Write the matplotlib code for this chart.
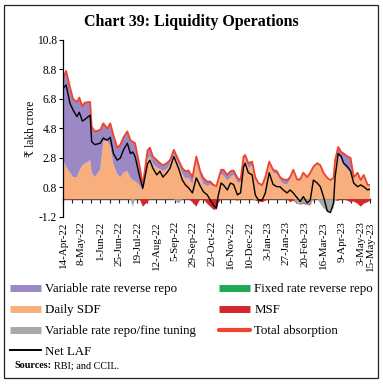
import matplotlib
matplotlib.use("Agg")
import matplotlib.pyplot as plt
import matplotlib.patches as mpatches
from matplotlib.lines import Line2D
import numpy as np
import pandas as pd

# ---- data (₹ lakh crore), sampled dates as day offsets from 14-Apr-2022 ----
day_offset = [0, 4, 9, 13, 18, 21, 25, 28, 35, 37, 41, 48, 52, 57, 61, 65, 70, 74, 78, 83,
              87, 90, 93, 96, 99, 103, 109, 112, 116, 121, 125, 129, 134, 138, 143, 149, 154, 158, 162, 167,
              172, 177, 181, 186, 190, 194, 198, 200, 204, 207, 212, 216, 220, 225, 229, 233, 235, 239, 244, 248,
              252, 257, 261, 266, 271, 276, 280, 284, 289, 293, 297, 302, 306, 310, 315, 319, 323, 328, 332, 336,
              341, 345, 349, 351, 355, 359, 362, 367, 371, 375, 380, 384, 388, 393, 396]

daily_sdf = [2.66, 2.2, 1.8, 1.5, 1.5, 1.9, 2.3, 2.4, 2.65, 1.8, 1.5, 2.0, 3.9, 4.0, 3.55, 2.4, 1.7, 1.5, 1.8, 1.9,
             1.45, 1.3, 1.2, 1.1, 0.9, 0.55, 2.7, 2.9, 2.4, 2.15, 2.05, 1.9, 2.05, 2.35, 3.05, 2.35, 1.7, 1.4, 1.45, 1.0,
             2.6, 1.5, 1.05, 0.9, 1.0, 0.87, 0.9, 1.2, 1.7, 1.6, 1.25, 1.5, 1.65, 1.15, 1.1, 2.7, 2.8, 2.15, 2.25, 1.3,
             1.0, 0.87, 1.4, 2.45, 1.8, 1.7, 1.3, 1.05, 1.0, 1.3, 1.9, 1.25, 1.25, 1.7, 1.5, 1.8, 2.1, 2.35, 2.2, 1.8,
             1.45, 1.3, 1.45, 2.45, 3.05, 2.6, 2.3, 2.0, 2.0, 1.4, 1.7, 1.2, 1.55, 0.97, 0.97]

var_rate_rev_repo = [5.54, 6.5, 5.8, 5.3, 5.1, 5.0, 4.0, 4.15, 3.95, 3.1, 3.1, 2.7, 1.25, 0.8, 1.6, 1.95, 1.8, 2.2, 2.4, 2.7,
                     2.55, 2.6, 2.6, 1.9, 1.3, 0.4, 0.6, 0.6, 0.5, 0.5, 0.4, 0.4, 0.4, 0.3, 0.3, 0.3, 0.4, 0.5, 0.5, 0.5,
                     0.3, 0.4, 0.4, 0.3, 0.2, 0.1, 0.0, 0.1, 0.3, 0.4, 0.4, 0.4, 0.3, 0.3, 0.2, 0.2, 0.2, 0.3, 0.3, 0.2,
                     0.1, 0.1, 0.1, 0.1, 0.2, 0.2, 0.2, 0.3, 0.3, 0.2, 0.1, 0.1, 0.1, 0.1, 0.0, 0.0, 0.1, 0.1, 0.1, 0.0,
                     0.0, 0.0, 0.0, 0.2, 0.5, 0.6, 0.8, 0.9, 0.8, 0.1, 0.1, 0.1, 0.1, 0.0, 0.0]

net_laf = [7.5, 7.75, 6.5, 6.05, 5.6, 5.9, 5.3, 5.4, 5.7, 3.9, 3.7, 3.8, 4.15, 4.0, 4.2, 3.1, 2.65, 2.8, 3.35, 3.8,
           3.1, 3.2, 2.9, 2.2, 1.5, 0.75, 2.4, 2.65, 2.1, 1.65, 1.9, 1.5, 1.8, 2.1, 2.9, 2.1, 1.3, 0.97, 0.77, 0.43,
           1.45, 0.9, 0.52, 0.3, -0.05, -0.4, -0.6, 0.18, 1.1, 0.97, 0.63, 1.1, 1.0, 0.3, 0.43, 2.2, 2.45, 1.8, 1.65, 0.3,
           -0.05, -0.05, 0.43, 1.8, 1.0, 0.85, 0.85, 0.63, 0.43, 0.63, 0.43, 0.1, -0.15, 0.18, -0.25, -0.05, 1.3, 1.1, 0.85, 0.18,
           -0.8, -0.9, -0.25, 1.5, 3.1, 2.9, 2.45, 2.2, 1.9, 1.1, 0.85, 0.97, 0.85, 0.63, 0.7]

msf = [0.05, 0.05, 0, 0, 0, 0, 0, 0, 0, 0, 0, 0, 0, 0, 0, 0, 0, 0, 0, 0,
       0, 0, 0, 0, 0, 0.5, 0.2, 0, 0, 0, 0, 0, 0, 0, 0, 0, 0, 0, 0, 0.2,
       0.5, 0, 0, 0.3, 0.5, 0.7, 0.7, 0.3, 0, 0, 0, 0, 0, 0.1, 0, 0, 0, 0, 0, 0,
       0.15, 0.2, 0.1, 0, 0, 0, 0, 0, 0, 0.2, 0.1, 0, 0, 0.1, 0, 0.1, 0, 0, 0, 0,
       0, 0, 0, 0, 0.1, 0, 0, 0.1, 0.2, 0.15, 0.3, 0.5, 0.3, 0.2, 0.1]

var_rate_repo = [0, 0, 0, 0, 0, 0, 0, 0, 0, 0, 0, 0, 0, 0, 0, 0, 0, 0, 0, 0,
                 0, 0.5, 0, 0, 0, 0, 0, 0, 0, 0, 0, 0, 0, 0, 0, 0.3, 0, 0, 0, 0,
                 0, 0, 0, 0, 0, 0, 0, 0, 0, 0, 0, 0, 0, 0, 0, 0, 0, 0, 0, 0.1,
                 0, 0, 0, 0, 0, 0, 0, 0, 0, 0, 0, 0.3, 0.4, 0.2, 0.4, 0.3, 0, 0, 0.3, 0.6,
                 0.85, 0.85, 0.6, 0.1, 0, 0, 0, 0, 0, 0, 0, 0, 0, 0, 0]

tick_labels = ["14-Apr-22", "8-May-22", "1-Jun-22", "25-Jun-22", "19-Jul-22", "12-Aug-22",
               "5-Sep-22", "29-Sep-22", "23-Oct-22", "16-Nov-22", "10-Dec-22", "3-Jan-23",
               "27-Jan-23", "20-Feb-23", "16-Mar-23", "9-Apr-23", "3-May-23", "15-May-23"]
y_ticks = [10.8, 8.8, 6.8, 4.8, 2.8, 0.8, -1.2]

# ---- derived ----
start = pd.Timestamp("2022-04-14")
dates = start + pd.to_timedelta(day_offset, unit="D")
sdf = np.array(daily_sdf)
vrrr = np.array(var_rate_rev_repo)
total_abs = sdf + vrrr
neg_vrr = -np.array(var_rate_repo, dtype=float)
neg_msf = -np.array(msf, dtype=float)
label_dates = [pd.to_datetime(s, format="%d-%b-%y") for s in tick_labels]
minor_dates = pd.date_range(start, pd.Timestamp("2023-05-15"), freq="12D")

C_PURPLE = "#9d88c6"
C_ORANGE = "#f8ae7d"
C_GREY = "#a8a8a8"
C_GREEN = "#1daa55"
C_MSF = "#d4262b"
C_TOTAL = "#f0432a"

SERIF = ["Liberation Serif", "DejaVu Serif"]
plt.rcParams["font.family"] = SERIF

fig = plt.figure(figsize=(3.83, 3.84), dpi=100)
ax = fig.add_axes([0.1645, 0.435, 0.8015, 0.461])

ax.stackplot(dates, sdf, vrrr, colors=[C_ORANGE, C_PURPLE], linewidth=0)
ax.stackplot(dates, neg_vrr, neg_msf, colors=[C_GREY, C_MSF], linewidth=0)
ax.plot(dates, total_abs, color=C_TOTAL, lw=1.3)
ax.plot(dates, net_laf, color="black", lw=1.0)

ax.set_xlim(dates[0], dates[-1])
ax.set_ylim(-1.2, 10.8)
ax.set_yticks(y_ticks)
ax.set_yticklabels([f"{v:.1f}" for v in y_ticks], fontsize=8.3)
ax.tick_params(axis="y", direction="out", length=3, width=0.8, pad=1.5)

for s in ["top", "right", "bottom"]:
    ax.spines[s].set_visible(False)
ax.spines["left"].set_linewidth(0.9)

# labels at bottom
ax.set_xticks(label_dates)
ax.set_xticklabels(tick_labels, rotation=90, fontsize=7.9)
ax.tick_params(axis="x", length=0, pad=3)

# zero line axis with ticks
sec = ax.secondary_xaxis(0.1)
sec.set_xticks(minor_dates)
sec.set_xticklabels([])
sec.tick_params(axis="x", direction="out", length=3, width=0.8, color="#222222")
sec.spines["bottom"].set_color("#333333")
sec.spines["bottom"].set_linewidth(1.0)

ax.set_ylabel("₹ lakh crore", fontsize=8.3, labelpad=0)

fig.text(0.5, 0.942, "Chart 39: Liquidity Operations", ha="center", va="center",
         fontsize=11.5, fontweight="bold")

handles = [
    Line2D([], [], color=C_PURPLE, lw=5, solid_capstyle="butt"),
    Line2D([], [], color=C_ORANGE, lw=5, solid_capstyle="butt"),
    Line2D([], [], color=C_GREY, lw=5, solid_capstyle="butt"),
    Line2D([], [], color="black", lw=1.4),
    Line2D([], [], color=C_GREEN, lw=5, solid_capstyle="butt"),
    Line2D([], [], color=C_MSF, lw=5, solid_capstyle="butt"),
    Line2D([], [], color=C_TOTAL, lw=3, solid_capstyle="round"),
]
labels = ["Variable rate reverse repo", "Daily SDF", "Variable rate repo/fine tuning", "Net LAF",
          "Fixed rate reverse repo", "MSF", "Total absorption"]
fig.legend(handles, labels, ncol=2, loc="upper left", bbox_to_anchor=(0.027, 0.262),
           frameon=False, fontsize=9.3, handlelength=2.4, handletextpad=0.3,
           labelspacing=0.68, columnspacing=1.8, borderaxespad=0, borderpad=0)

t1 = fig.text(0.039, 0.047, "Sources:", fontsize=7.3, fontweight="bold", va="center")
fig.canvas.draw()
bb = t1.get_window_extent().transformed(fig.transFigure.inverted())
fig.text(bb.x1 + 0.006, 0.047, "RBI; and CCIL.", fontsize=7.3, va="center")

fig.patches.append(mpatches.Rectangle((4 / 383, 1 - 378 / 384), 374 / 383, 373 / 384,
                                      transform=fig.transFigure, fill=False,
                                      edgecolor="#222222", lw=0.9))

fig.savefig("out.png", dpi=100)
